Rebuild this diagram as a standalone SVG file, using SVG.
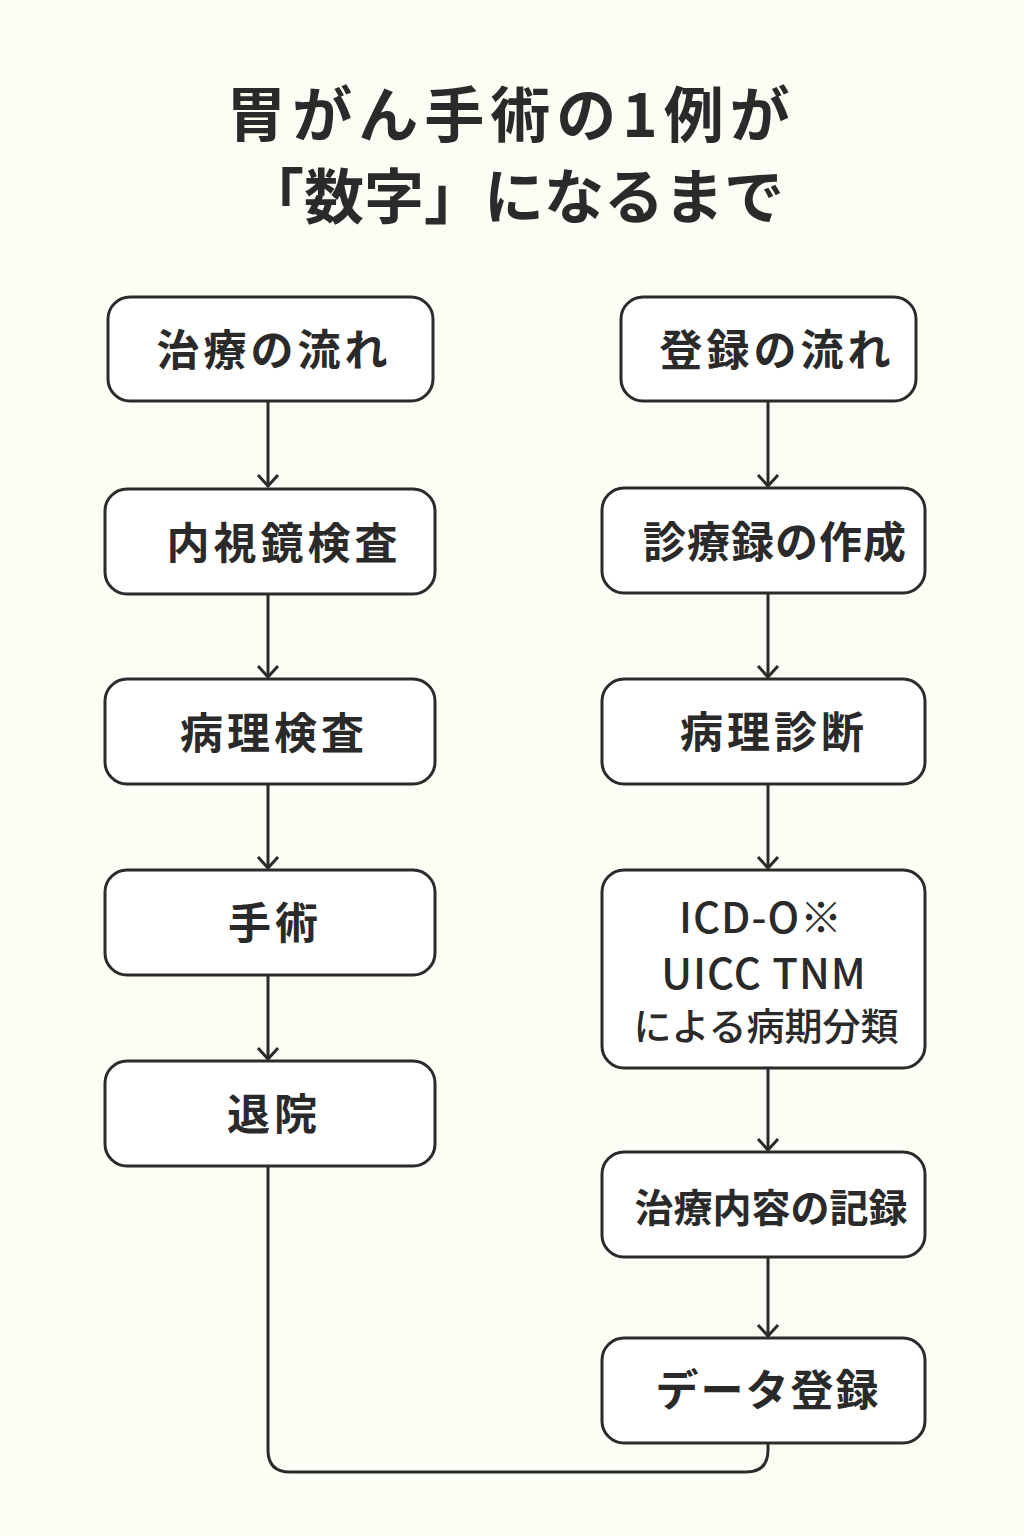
<svg xmlns="http://www.w3.org/2000/svg" width="1024" height="1536" viewBox="0 0 1024 1536">
<defs>
<style>
.box{fill:#ffffff;stroke:#2b2b2b;stroke-width:3}
.lbl{font-family:"Noto Sans CJK JP","Noto Sans",sans-serif;font-weight:700;font-size:43px;fill:#2a2a2a;text-anchor:middle;letter-spacing:4px}
.lbl2{font-family:"Noto Sans CJK JP","Noto Sans",sans-serif;font-weight:500;fill:#2a2a2a;text-anchor:middle}
.title{font-family:"Noto Sans CJK JP","Noto Sans",sans-serif;font-weight:700;font-size:60px;fill:#2a2a2a;text-anchor:middle}
.conn{fill:none;stroke:#2b2b2b;stroke-width:3}
</style>
<marker id="arr" markerUnits="userSpaceOnUse" markerWidth="30" markerHeight="30" refX="13" refY="12" orient="auto">
<path d="M2,2 L13,12 L2,22" fill="none" stroke="#2b2b2b" stroke-width="3"/>
</marker>
</defs>
<rect width="1024" height="1536" fill="#fdfcf5"/>
<g id="title">
<text class="title" x="511" y="137" style="letter-spacing:6px">胃がん手術の1例が</text>
<text class="title" x="514" y="219" style="letter-spacing:0px">「数字」になるまで</text>
</g>
<g id="connectors">
<path class="conn" d="M268,402 V486" marker-end="url(#arr)"/>
<path class="conn" d="M268,595 V677" marker-end="url(#arr)"/>
<path class="conn" d="M268,785 V868" marker-end="url(#arr)"/>
<path class="conn" d="M268,976 V1059" marker-end="url(#arr)"/>
<path class="conn" d="M768,402 V486" marker-end="url(#arr)"/>
<path class="conn" d="M768,594 V677" marker-end="url(#arr)"/>
<path class="conn" d="M768,785 V868" marker-end="url(#arr)"/>
<path class="conn" d="M768,1069 V1150" marker-end="url(#arr)"/>
<path class="conn" d="M768,1258 V1336" marker-end="url(#arr)"/>
<path class="conn" d="M268,1167 V1450 Q268,1472 290,1472 H746 Q768,1472 768,1450 V1444"/>
</g>
<g id="n1"><rect class="box" x="108" y="297" width="325" height="104" rx="22"/><text class="lbl" x="274" y="366">治療の流れ</text></g>
<g id="n2"><rect class="box" x="105" y="489" width="330" height="105" rx="22"/><text class="lbl" x="284" y="559">内視鏡検査</text></g>
<g id="n3"><rect class="box" x="105" y="679" width="330" height="105" rx="22"/><text class="lbl" x="274" y="749">病理検査</text></g>
<g id="n4"><rect class="box" x="105" y="870" width="330" height="105" rx="22"/><text class="lbl" x="275" y="939">手術</text></g>
<g id="n5"><rect class="box" x="105" y="1061" width="330" height="105" rx="22"/><text class="lbl" x="274" y="1130">退院</text></g>
<g id="r1"><rect class="box" x="621" y="297" width="295" height="104" rx="22"/><text class="lbl" x="777" y="366">登録の流れ</text></g>
<g id="r2"><rect class="box" x="602" y="488" width="323" height="105" rx="22"/><text class="lbl" x="775" y="558" style="letter-spacing:1px">診療録の作成</text></g>
<g id="r3"><rect class="box" x="602" y="679" width="323" height="105" rx="22"/><text class="lbl" x="774" y="748">病理診断</text></g>
<g id="r4"><rect class="box" x="602" y="870" width="323" height="198" rx="22"/>
<text class="lbl2" x="761" y="933" style="font-size:42px;letter-spacing:1px">ICD-O※</text>
<text class="lbl2" x="764" y="989" style="font-size:42px;letter-spacing:1px">UICC TNM</text>
<text class="lbl2" x="766" y="1040" style="font-size:38px">による病期分類</text></g>
<g id="r5"><rect class="box" x="602" y="1152" width="323" height="105" rx="22"/><text class="lbl" x="771" y="1222" style="font-size:39px;letter-spacing:0px">治療内容の記録</text></g>
<g id="r6"><rect class="box" x="602" y="1338" width="323" height="105" rx="22"/><text class="lbl" x="768" y="1406" style="letter-spacing:2px">データ登録</text></g>
</svg>
